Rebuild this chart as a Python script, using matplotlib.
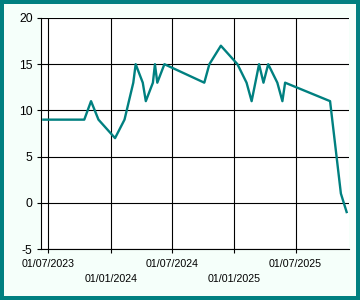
import datetime as dt
import matplotlib
matplotlib.use("Agg")
import matplotlib.pyplot as plt
import matplotlib.dates as mdates
from matplotlib.patches import Rectangle

# data
dates = [
    "2023-06-16", "2023-10-15", "2023-11-04", "2023-11-26", "2024-01-14",
    "2024-02-11", "2024-03-08", "2024-03-15", "2024-04-05", "2024-04-14",
    "2024-05-05", "2024-05-11", "2024-05-18", "2024-06-08", "2024-10-04",
    "2024-10-19", "2024-11-22", "2025-01-10", "2025-02-06", "2025-02-21",
    "2025-03-15", "2025-03-28", "2025-04-11", "2025-05-08", "2025-05-23",
    "2025-05-31", "2025-10-11", "2025-11-12", "2025-11-29",
]
values = [9, 9, 11, 9, 7, 9, 13, 15, 13, 11, 13, 15, 13, 15, 13,
          15, 17, 15, 13, 11, 15, 13, 15, 13, 11, 13, 11, 1, -1]
tick_dates = ["2023-07-01", "2024-01-01", "2024-07-01", "2025-01-01", "2025-07-01"]
y_ticks = [-5, 0, 5, 10, 15, 20]

x = [dt.datetime.strptime(d, "%Y-%m-%d") for d in dates]
xt = [dt.datetime.strptime(d, "%Y-%m-%d") for d in tick_dates]

plt.rcParams['font.family'] = ['Liberation Sans', 'DejaVu Sans']
plt.rcParams['axes.unicode_minus'] = False

teal = "#008080"
fig = plt.figure(figsize=(3.6, 3.0), dpi=100)
fig.patch.set_facecolor(teal)
fig.add_artist(Rectangle((4 / 360, 4 / 300), 352 / 360, 292 / 300,
                         transform=fig.transFigure, facecolor="#F5FFFA",
                         edgecolor="none", zorder=-1))

ax = fig.add_axes([41 / 360, 1 - 249 / 300, 308 / 360, 231 / 300])
ax.set_facecolor("white")
ax.plot(x, values, color=teal, lw=1.7, zorder=3)

ax.set_ylim(-5, 20)
ax.set_yticks(y_ticks)
ax.set_xlim(dt.datetime(2023, 6, 9), dt.datetime(2025, 12, 6))
ax.set_xticks(xt)
ax.xaxis.set_major_formatter(mdates.DateFormatter("%d/%m/%Y"))

ax.grid(True, color="black", lw=0.8)
ax.set_axisbelow(True)
for s in ["top", "right"]:
    ax.spines[s].set_visible(False)
for s in ["left", "bottom"]:
    ax.spines[s].set_color("black")
    ax.spines[s].set_linewidth(0.8)

ax.tick_params(axis="y", labelsize=8.8, length=3, width=0.8, pad=3, colors="black")
ax.tick_params(axis="x", labelsize=7.7, length=3, width=0.8, pad=4, colors="black")
for i, t in enumerate(ax.xaxis.get_major_ticks()):
    if i % 2 == 1:
        t.set_pad(15)

fig.savefig("out.png", dpi=100, facecolor=fig.get_facecolor())
